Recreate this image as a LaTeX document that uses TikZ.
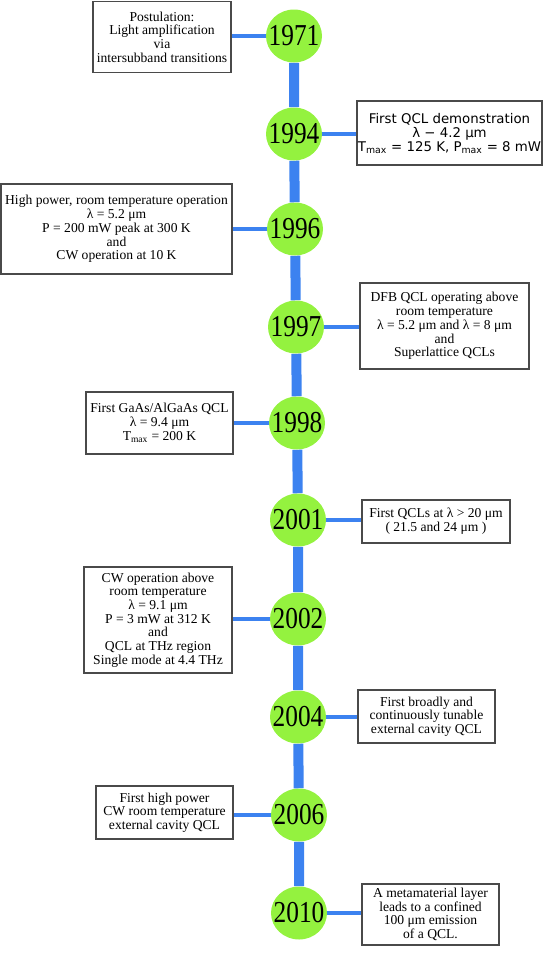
\documentclass[tikz,border=0pt]{standalone}
\usepackage{fontspec}
\setmainfont{Liberation Serif}
\newfontfamily\qclsans{DejaVu Sans}
\usepackage{graphicx}
\usepackage{xcolor}
\usepackage{tikz}
\usetikzlibrary{shapes.geometric}
\definecolor{yeargreen}{HTML}{94F23F}
\definecolor{lineblue}{HTML}{3C82F0}
\definecolor{boxgray}{HTML}{4A4A4A}
\newcommand{\yearlabel}[1]{\scalebox{1}[1.2]{#1}}
\tikzset{
  yearnode/.style={ellipse,fill=yeargreen,inner xsep=-5pt,inner ysep=0pt,minimum width=42pt,minimum height=39.75pt,font=\fontsize{19}{19}\selectfont},
  eventbox/.style={draw=boxgray,line width=1.1pt,fill=white,align=center,inner sep=0pt},
  spine/.style={draw=lineblue,line width=7.5pt},
  branch/.style={draw=lineblue,line width=2.5pt}
}
\begin{document}
\begin{tikzpicture}[x=0.75pt,y=-0.75pt,font=\fontsize{10.2}{10.3}\selectfont]
  \useasboundingbox (0,0) rectangle (545,954);
  % years on the time line
  \node[yearnode] (y1971) at (294,36) {\yearlabel{1971}};
  \node[yearnode] (y1994) at (294,134) {\yearlabel{1994}};
  \node[yearnode] (y1996) at (295,229) {\yearlabel{1996}};
  \node[yearnode] (y1997) at (296,327) {\yearlabel{1997}};
  \node[yearnode] (y1998) at (297,423) {\yearlabel{1998}};
  \node[yearnode] (y2001) at (298,520) {\yearlabel{2001}};
  \node[yearnode] (y2002) at (298,619) {\yearlabel{2002}};
  \node[yearnode] (y2004) at (298,717) {\yearlabel{2004}};
  \node[yearnode] (y2006) at (299,815) {\yearlabel{2006}};
  \node[yearnode] (y2010) at (299,913) {\yearlabel{2010}};
  \draw[spine] (y1971) -- (y1994) -- (y1996) -- (y1997) -- (y1998) -- (y2001) -- (y2002) -- (y2004) -- (y2006) -- (y2010);
  % events
  \node[eventbox,minimum width=103.5pt,minimum height=53.25pt] (b1971) at (162,37) {Postulation:\\Light amplification\\via\\intersubband transitions};
  \node[eventbox,minimum width=138.75pt,minimum height=48pt,font=\qclsans\fontsize{10}{10.5}\selectfont] (b1994) at (449.5,133) {First QCL demonstration\\λ − 4.2 μm\\T\textsubscript{max} = 125 K, P\textsubscript{max} = 8 mW};
  \node[eventbox,minimum width=173.25pt,minimum height=67.5pt] (b1996) at (116.5,229) {High power, room temperature operation\\λ = 5.2 μm\\P = 200 mW peak at 300 K\\and\\CW operation at 10 K};
  \node[eventbox,minimum width=126.75pt,minimum height=64.5pt] (b1997) at (444.5,326) {DFB QCL operating above\\room temperature\\λ = 5.2 μm and λ = 8 μm\\and\\Superlattice QCLs};
  \node[eventbox,minimum width=110.25pt,minimum height=46.5pt] (b1998) at (159.5,423) {First GaAs/AlGaAs QCL\\λ = 9.4 μm\\T\textsubscript{max} = 200 K};
  \node[eventbox,minimum width=111pt,minimum height=32.25pt] (b2001) at (436,521.5) {First QCLs at λ > 20 μm\\( 21.5 and 24 μm )};
  \node[eventbox,minimum width=111pt,minimum height=79.5pt] (b2002) at (158,620) {CW operation above\\room temperature\\λ = 9.1 μm\\P = 3 mW at 312 K\\and\\QCL at THz region\\Single mode at 4.4 THz};
  \node[eventbox,minimum width=102.75pt,minimum height=39.75pt] (b2004) at (426.5,716.5) {First broadly and\\continuously tunable\\external cavity QCL};
  \node[eventbox,minimum width=102.75pt,minimum height=39.75pt] (b2006) at (164.5,812.5) {First high power\\CW room temperature\\external cavity QCL};
  \node[eventbox,minimum width=102.75pt,minimum height=45.75pt] (b2010) at (430.5,914.5) {A metamaterial layer\\leads to a confined\\100 μm emission\\of a QCL.};
  % links from years to events
  \draw[branch] (y1971) -- (y1971 -| b1971.east);
  \draw[branch] (y1994) -- (y1994 -| b1994.west);
  \draw[branch] (y1996) -- (y1996 -| b1996.east);
  \draw[branch] (y1997) -- (y1997 -| b1997.west);
  \draw[branch] (y1998) -- (y1998 -| b1998.east);
  \draw[branch] (y2001) -- (y2001 -| b2001.west);
  \draw[branch] (y2002) -- (y2002 -| b2002.east);
  \draw[branch] (y2004) -- (y2004 -| b2004.west);
  \draw[branch] (y2006) -- (y2006 -| b2006.east);
  \draw[branch] (y2010) -- (y2010 -| b2010.west);
\end{tikzpicture}
\end{document}
